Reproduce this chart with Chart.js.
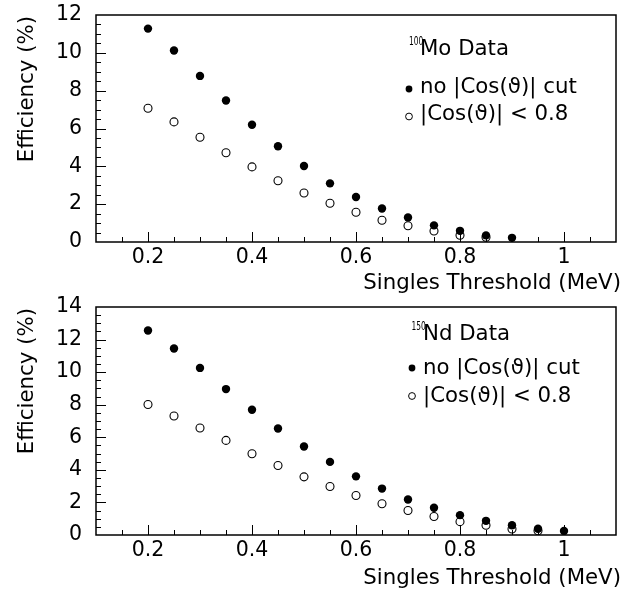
<!DOCTYPE html>
<html><head><meta charset="utf-8">
<script src="https://cdn.jsdelivr.net/npm/chart.js@4.4.1/dist/chart.umd.min.js"></script>
<style>
html,body{margin:0;padding:0;background:#fff;}
#wrap{position:relative;width:626px;height:589px;overflow:hidden;}
canvas{position:absolute;left:0;}
</style></head><body>
<div id="wrap">
<canvas id="cTop" width="626" height="294" style="top:0"></canvas>
<canvas id="cBot" width="626" height="295" style="top:294px"></canvas>
</div>
<script>
// ---- data ----
const thresholds = [0.2,0.25,0.3,0.35,0.4,0.45,0.5,0.55,0.6,0.65,0.7,0.75,0.8,0.85,0.9,0.95,1.0];
const moNoCut = [11.28,10.12,8.78,7.48,6.20,5.06,4.02,3.10,2.38,1.77,1.30,0.88,0.59,0.35,0.22];
const moCut   = [7.07,6.35,5.54,4.72,3.97,3.24,2.59,2.05,1.57,1.15,0.86,0.58,0.36,0.25];
const ndNoCut = [12.56,11.45,10.26,8.96,7.69,6.54,5.43,4.49,3.60,2.85,2.18,1.67,1.22,0.87,0.60,0.38,0.25];
const ndCut   = [8.01,7.31,6.57,5.81,4.99,4.27,3.57,2.98,2.43,1.92,1.50,1.14,0.82,0.60,0.37,0.26];
const xTickLabels = [0.2,0.4,0.6,0.8,1];
const moYTicks = [0,2,4,6,8,10,12];
const ndYTicks = [0,2,4,6,8,10,12,14];
const xLabel = 'Singles Threshold (MeV)';
const yLabel = 'Efficiency (%)';
const moHeader = ['100','Mo Data'];
const ndHeader = ['150','Nd Data'];
const seriesNames = ['no |Cos(\u03D1)| cut', '|Cos(\u03D1)| < 0.8'];

const FONT = "'DejaVu Sans', 'Liberation Sans', sans-serif";
Chart.defaults.font.family = FONT;
Chart.defaults.color = '#000';

function pts(vals){ return vals.map((v,i)=>({x:thresholds[i], y:v})); }

const framePlugin = {
  id:'frame',
  afterDatasetsDraw(chart, args, o){
    const {ctx, chartArea:{left,right,top,bottom}, scales:{x,y}} = chart;
    ctx.save();
    ctx.strokeStyle = '#000';
    ctx.lineWidth = 1;
    // x ticks (inward)
    for (let k = 3; k <= 21; k++) {
      const v = k*0.05;
      const px = Math.round(x.getPixelForValue(v)) + 0.5;
      const major = xTickLabels.some(t => Math.abs(t - v) < 1e-6);
      const len = major ? 10 : 5;
      ctx.beginPath(); ctx.moveTo(px, bottom); ctx.lineTo(px, bottom - len); ctx.stroke();
    }
    // y ticks (inward)
    const ymax = y.max;
    for (let k = 1; k < ymax*2; k++) {
      const v = k*0.5;
      const py = Math.round(y.getPixelForValue(v)) + 0.5;
      const major = (k % 4 === 0);
      const len = major ? 10 : 5;
      ctx.beginPath(); ctx.moveTo(left, py); ctx.lineTo(left + len, py); ctx.stroke();
    }
    ctx.lineWidth = 1.5;
    ctx.strokeRect(left, top, right-left, bottom-top);

    ctx.fillStyle = '#000';
    ctx.textBaseline = 'alphabetic';
    // axis titles
    ctx.font = '21.3px ' + FONT;
    ctx.textAlign = 'right';
    ctx.fillText(xLabel, right + 5, o.xTitleBase);
    ctx.save();
    ctx.translate(33.3, top + 1);
    ctx.rotate(-Math.PI/2);
    ctx.textAlign = 'right';
    ctx.fillText(yLabel, 0, 0);
    ctx.restore();

    // legend
    const L = o.legend;
    ctx.textAlign = 'left';
    ctx.save();
    ctx.translate(L.supX, L.supY);
    ctx.scale(0.65, 1);
    ctx.font = '11.5px ' + FONT;
    ctx.fillText(L.header[0], 0, 0);
    ctx.restore();
    ctx.font = '21.3px ' + FONT;
    ctx.fillText(L.header[1], L.textX, L.y0);
    ctx.fillText(L.names[0], L.textX, L.y1);
    ctx.fillText(L.names[1], L.textX, L.y2);
    ctx.beginPath(); ctx.arc(L.mX, L.m1, 3.4, 0, Math.PI*2); ctx.fill();
    ctx.lineWidth = 1;
    ctx.beginPath(); ctx.arc(L.mX, L.m2, 3.4, 0, Math.PI*2); ctx.stroke();
    ctx.restore();
  }
};

function zeroPad(s){ s.paddingTop = 0; s.paddingBottom = 0; s.paddingLeft = 0; s.paddingRight = 0; }

function makeChart(id, filled, open, yTicks, padTop, xAxisH, xTitleBase, legend){
  const ymax = yTicks[yTicks.length-1];
  return new Chart(document.getElementById(id), {
    type:'scatter',
    data:{ datasets:[
      { label: seriesNames[1], data: pts(open), pointRadius:4, pointBorderWidth:1.1,
        pointBackgroundColor:'rgba(255,255,255,0)', pointBorderColor:'#000', showLine:false },
      { label: seriesNames[0], data: pts(filled), pointRadius:4.2, pointBorderWidth:0,
        pointBackgroundColor:'#000', pointBorderColor:'#000', showLine:false }
    ]},
    options:{
      responsive:false, animation:false, devicePixelRatio:1,
      layout:{ padding:{ top:padTop, right:10, left:0, bottom:0 } },
      plugins:{ legend:{display:false}, tooltip:{enabled:false}, frame:{ legend, xTitleBase } },
      scales:{
        x:{ type:'linear', min:0.1, max:1.1,
            afterBuildTicks: s => { s.ticks = xTickLabels.map(v=>({value:v})); },
            afterFit: s => { s.height = xAxisH; zeroPad(s); },
            grid:{ display:false, drawTicks:false }, border:{ display:false },
            ticks:{ font:{ size:20.5 }, padding:3, maxRotation:0, autoSkip:false,
                    callback: v => String(+Number(v).toFixed(2)) } },
        y:{ type:'linear', min:0, max:ymax,
            afterBuildTicks: s => { s.ticks = yTicks.map(v=>({value:v})); },
            afterFit: s => { s.width = 96; zeroPad(s); },
            grid:{ display:false, drawTicks:false }, border:{ display:false },
            ticks:{ font:{ size:20.5 }, padding:14, autoSkip:false,
                    callback: v => String(v) } }
      }
    },
    plugins:[framePlugin]
  });
}

makeChart('cTop', moNoCut, moCut, moYTicks, 15, 52, 289.3,
  { header:moHeader, names:seriesNames, supX:409, supY:45, textX:420, y0:55, y1:92.5, y2:120, mX:409, m1:89, m2:116.5 });
makeChart('cBot', ndNoCut, ndCut, ndYTicks, 13, 54, 289.5,
  { header:ndHeader, names:seriesNames, supX:411.5, supY:36, textX:423, y0:46, y1:79.5, y2:107.5, mX:412, m1:74, m2:102 });
</script>
</body></html>
